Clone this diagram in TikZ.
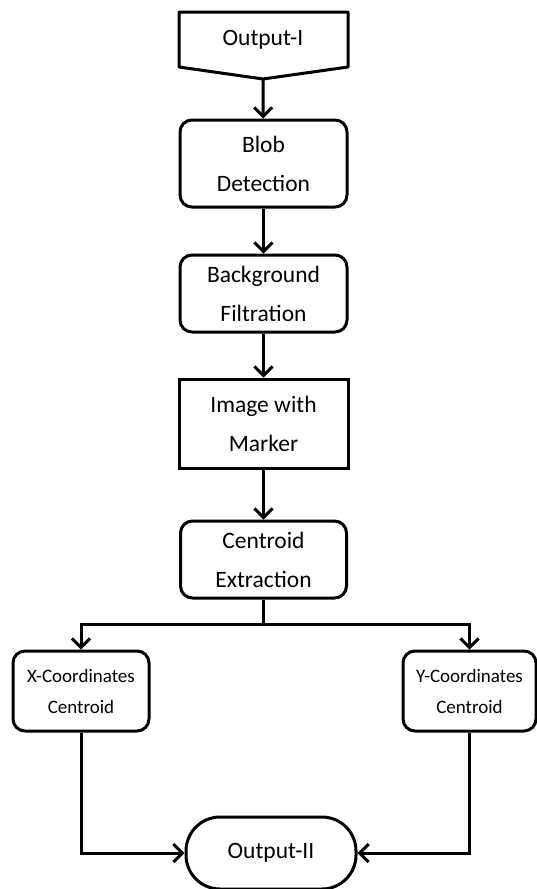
\documentclass[tikz,border=0pt]{standalone}
\usepackage{fontspec}
\setmainfont{Carlito}
\usetikzlibrary{arrows.meta}
\tikzset{
  stepbox/.style={draw,line width=3pt,rounded corners=12pt,align=center,inner sep=0pt,
    font=\fontsize{23.5}{39}\selectfont},
  plainbox/.style={stepbox,sharp corners},
  sidebox/.style={stepbox,font=\fontsize{19}{31}\selectfont},
  endbox/.style={stepbox,rounded corners=34pt},
  flow/.style={line width=3pt,-{Straight Barb[length=9pt,width=18pt,line width=3pt]}}
}
\begin{document}
\begin{tikzpicture}[x=1pt,y=-1pt]
\useasboundingbox (0,0) rectangle (536,889);
\draw[line width=3pt,line join=round] (179,12) -- (348,12) -- (348,67) -- (263,79) -- (179,67) -- cycle;
\coordinate (tip) at (263,79);
\node[font=\fontsize{23.5}{28}\selectfont] (out1) at (263,40) {Output-I};
\node[stepbox,minimum width=167pt,minimum height=87pt] (blob) at (263.5,163.5) {Blob\\Detection};
\node[stepbox,minimum width=167pt,minimum height=77pt] (back) at (263.5,293.5) {Background\\Filtration};
\node[plainbox,minimum width=169pt,minimum height=89pt] (img) at (263.5,423.5) {Image with\\Marker};
\node[stepbox,minimum width=166pt,minimum height=77pt] (cen) at (263.5,559.5) {Centroid\\Extraction};
\node[sidebox,minimum width=136pt,minimum height=80pt] (xc) at (81,691) {X-Coordinates\\Centroid};
\node[sidebox,minimum width=133pt,minimum height=80pt] (yc) at (469.5,691) {Y-Coordinates\\Centroid};
\node[endbox,minimum width=170pt,minimum height=72pt] (out2) at (271,853) {Output-II};
\coordinate (split) at (263.5,624);
\draw[flow] (tip) -- (blob);
\draw[flow] (blob) -- (back);
\draw[flow] (back) -- (img);
\draw[flow] (img) -- (cen);
\draw[line width=3pt] (cen) -- (split);
\draw[flow] (split) -| (xc);
\draw[flow] (split) -| (yc);
\draw[flow] (xc) |- (out2);
\draw[flow] (yc) |- (out2);
\end{tikzpicture}
\end{document}
